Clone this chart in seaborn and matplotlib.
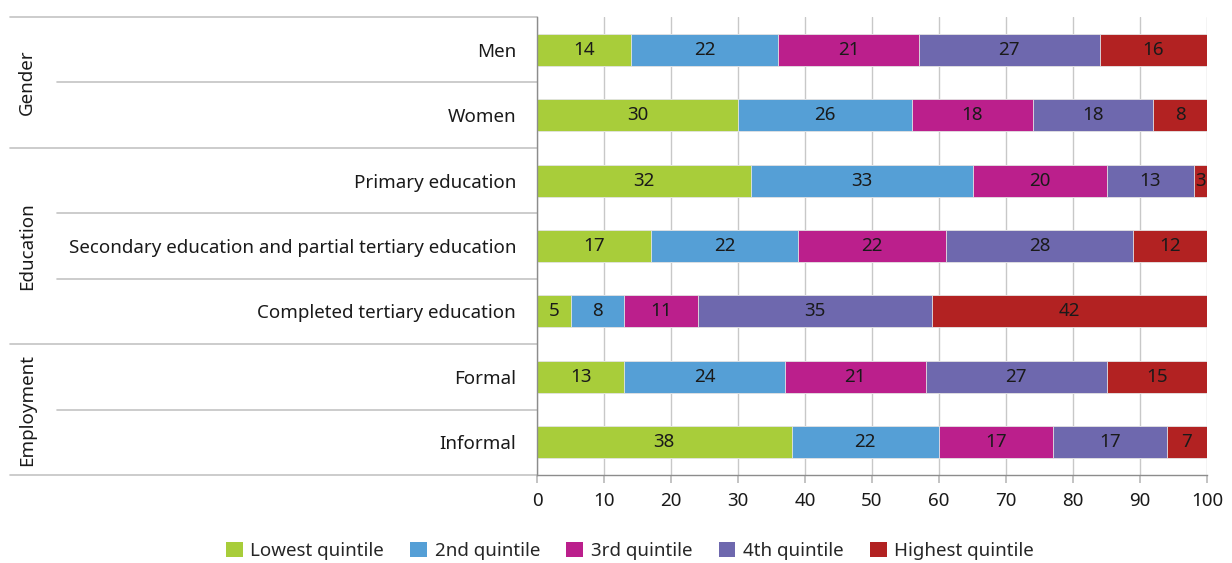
import numpy as np
import pandas as pd
import matplotlib
matplotlib.use("Agg")
import matplotlib.pyplot as plt
import matplotlib.transforms as mtransforms
from matplotlib.patches import Patch
import seaborn as sns

categories = ["Men", "Women", "Primary education",
              "Secondary education and partial tertiary education",
              "Completed tertiary education", "Formal", "Informal"]
groups = ["Gender", "Gender", "Education", "Education", "Education",
          "Employment", "Employment"]
series = ["Lowest quintile", "2nd quintile", "3rd quintile",
          "4th quintile", "Highest quintile"]
lowest = [14, 30, 32, 17, 5, 13, 38]
second = [22, 26, 33, 22, 8, 24, 22]
third = [21, 18, 20, 22, 11, 21, 17]
fourth = [27, 18, 13, 28, 35, 27, 17]
highest = [16, 8, 3, 12, 42, 15, 7]
xticks = [0, 10, 20, 30, 40, 50, 60, 70, 80, 90, 100]

colors = ["#a8cd3a", "#559fd6", "#bb1f8c", "#6e68ae", "#b22222"]
FS = 13.5

sns.set_theme(style="white")
plt.rcParams['font.family'] = ['Noto Sans', 'DejaVu Sans']

values = np.array([lowest, second, third, fourth, highest], dtype=float)
cum = np.cumsum(values, axis=0)
df = pd.DataFrame({"category": categories})
for i, s in enumerate(series):
    df[s] = cum[i]

fig = plt.figure(figsize=(12.32, 5.63), dpi=100)
ax = fig.add_axes([537/1232, 1-475/563, 670/1232, 458/563])

for i in reversed(range(len(series))):
    sns.barplot(data=df, y="category", x=series[i], color=colors[i],
                saturation=1, orient="h", width=0.49, edgecolor="#e6e6e6",
                linewidth=0.6, ax=ax, zorder=2)

# labels
for r in range(len(categories)):
    for i in range(len(series)):
        start = cum[i, r] - values[i, r]
        end = min(cum[i, r], 100)
        cx = (start + end) / 2
        ax.text(cx, r, f"{int(values[i, r])}", ha="center", va="center",
                fontsize=FS, color="#1a1a1a", zorder=3)

ax.set_xlim(0, 100)
ax.set_ylim(len(categories) - 0.5, -0.5)
ax.set_xticks(xticks)
ax.set_xticklabels([str(t) for t in xticks])
ax.set_xlabel("")
ax.set_ylabel("")
ax.grid(axis="x", color="#c8c8c8", linewidth=1, zorder=0)
ax.set_axisbelow(True)
for side in ["top", "right"]:
    ax.spines[side].set_visible(False)
for side in ["left", "bottom"]:
    ax.spines[side].set_color("#8c8c8c")
    ax.spines[side].set_linewidth(1)
ax.tick_params(axis="x", which="both", bottom=True, length=6, color="#bbbbbb",
               labelsize=FS, labelcolor="#1a1a1a", pad=6)
ax.tick_params(axis="y", length=0, labelsize=FS, labelcolor="#1a1a1a", pad=15)

# separators and group labels
trans = mtransforms.blended_transform_factory(ax.transAxes, ax.transData)
x_outer = (10 - 537) / 670
x_inner = (57 - 537) / 670
x_group = (27 - 537) / 670
boundaries = [-0.5]
unique_groups = []
for r, g in enumerate(groups):
    if r > 0 and g != groups[r - 1]:
        boundaries.append(r - 0.5)
    if g not in unique_groups:
        unique_groups.append(g)
boundaries.append(len(groups) - 0.5)
for b in boundaries:
    ax.plot([x_outer, 0], [b, b], transform=trans, color="#c4c4c4",
            linewidth=1.2, clip_on=False)
for r in range(1, len(groups)):
    if groups[r] == groups[r - 1]:
        ax.plot([x_inner, 0], [r - 0.5, r - 0.5], transform=trans,
                color="#c4c4c4", linewidth=1.2, clip_on=False)
for g in unique_groups:
    rows = [r for r, gg in enumerate(groups) if gg == g]
    ax.text(x_group, np.mean(rows), g, rotation=90, ha="center", va="center",
            fontsize=FS, color="#1a1a1a", transform=trans)

handles = [Patch(facecolor=c, edgecolor="none") for c in colors]
fig.legend(handles, series, loc="center", bbox_to_anchor=(630/1232, 1-551/563),
           ncol=5, frameon=False, fontsize=FS, handlelength=0.9,
           handleheight=0.9, handletextpad=0.4, columnspacing=1.4,
           borderaxespad=0, borderpad=0)

fig.savefig("out.png", dpi=100)
